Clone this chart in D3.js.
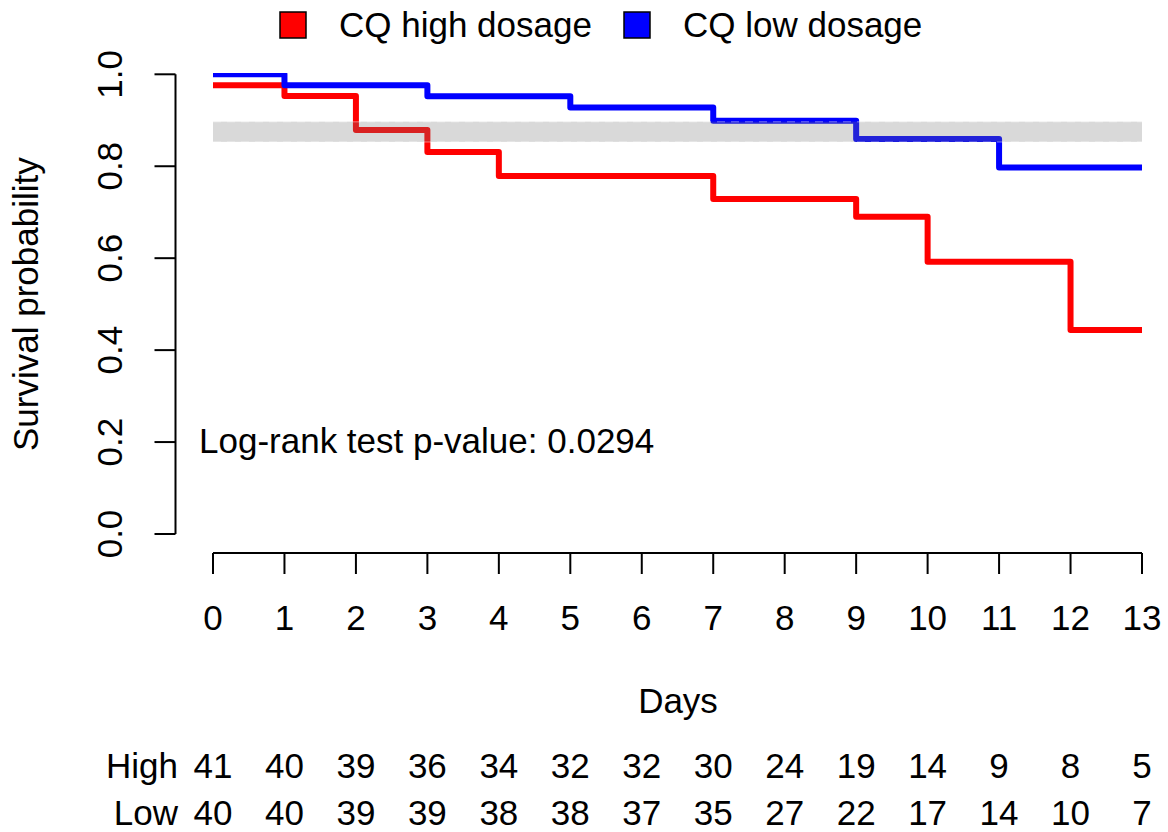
<!DOCTYPE html>
<html><head><meta charset="utf-8">
<script src="https://cdn.jsdelivr.net/npm/d3@7"></script>
<style>
html,body{margin:0;padding:0;background:#fff;}
text{font-family:"Liberation Sans",Arial,Helvetica,sans-serif;fill:#000;}
</style></head>
<body>
<svg id="chart" width="1168" height="832"></svg>
<script>
// ---- data ----
const seriesNames = ["CQ high dosage", "CQ low dosage"];
const seriesColors = ["#ff0000", "#0000ff"];
const highTimes = [0, 1, 2, 3, 4, 7, 9, 10, 12];
const highSurv  = [0.976, 0.953, 0.879, 0.831, 0.779, 0.729, 0.690, 0.592, 0.444];
const lowTimes  = [0, 1, 3, 5, 7, 9, 11];
const lowSurv   = [1.000, 0.976, 0.952, 0.928, 0.899, 0.859, 0.797];
const endTime = 13;
const bandRange = [0.853, 0.897];
const xTicks = [0,1,2,3,4,5,6,7,8,9,10,11,12,13];
const yTicks = [0.0, 0.2, 0.4, 0.6, 0.8, 1.0];
const riskLabels = ["High", "Low"];
const riskHigh = [41, 40, 39, 36, 34, 32, 32, 30, 24, 19, 14, 9, 8, 5];
const riskLow  = [40, 40, 39, 39, 38, 38, 37, 35, 27, 22, 17, 14, 10, 7];
const pText = "Log-rank test p-value: 0.0294";

// ---- layout ----
const svg = d3.select("#chart");
const FS = 35;
const x = d3.scaleLinear().domain([0, 13]).range([213, 1142]);
const y = d3.scaleLinear().domain([0, 1]).range([534, 74.3]);

svg.append("defs").append("clipPath").attr("id", "plotclip")
  .append("rect").attr("x", 150).attr("y", 73).attr("width", 1010).attr("height", 470);

// y axis (R style)
const yAxisX = 175.5;
const gy = svg.append("g");
gy.append("line").attr("x1", yAxisX).attr("x2", yAxisX)
  .attr("y1", y(0)).attr("y2", y(1)).attr("stroke", "#000").attr("stroke-width", 2);
gy.selectAll("line.t").data(yTicks).enter().append("line").attr("class","t")
  .attr("x1", yAxisX - 21).attr("x2", yAxisX).attr("y1", d => y(d)).attr("y2", d => y(d))
  .attr("stroke", "#000").attr("stroke-width", 2);
gy.selectAll("text").data(yTicks).enter().append("text")
  .attr("transform", d => `translate(122,${y(d)}) rotate(-90)`)
  .attr("text-anchor", "middle").style("font-size", FS + "px")
  .text(d => d3.format(".1f")(d));
svg.append("text").attr("transform", `translate(38,${(y(0)+y(1))/2}) rotate(-90)`)
  .attr("text-anchor", "middle").style("font-size", FS + "px").text("Survival probability");

// x axis
const xAxisY = 553;
const gx = svg.append("g");
gx.append("line").attr("x1", x(0)).attr("x2", x(13)).attr("y1", xAxisY).attr("y2", xAxisY)
  .attr("stroke", "#000").attr("stroke-width", 2);
gx.selectAll("line.t").data(xTicks).enter().append("line").attr("class","t")
  .attr("x1", d => x(d)).attr("x2", d => x(d)).attr("y1", xAxisY).attr("y2", xAxisY + 21)
  .attr("stroke", "#000").attr("stroke-width", 2);
gx.selectAll("text").data(xTicks).enter().append("text")
  .attr("x", d => x(d)).attr("y", 630).attr("text-anchor", "middle")
  .style("font-size", FS + "px").text(d => d);
svg.append("text").attr("x", 678).attr("y", 713).attr("text-anchor", "middle")
  .style("font-size", FS + "px").text("Days");

// curves
const line = d3.line().x(d => x(d[0])).y(d => y(d[1])).curve(d3.curveStepAfter);
function pts(t, s) { const p = t.map((v, i) => [v, s[i]]); p.push([endTime, s[s.length - 1]]); return p; }
const curves = [pts(highTimes, highSurv), pts(lowTimes, lowSurv)];
const gc = svg.append("g").attr("clip-path", "url(#plotclip)");
curves.forEach((c, i) => {
  gc.append("path").attr("d", line(c)).attr("fill", "none")
    .attr("stroke", seriesColors[i]).attr("stroke-width", 6)
    .attr("stroke-linejoin", "round");
});

// grey band on top
svg.append("rect").attr("x", x(0)).attr("width", x(13) - x(0))
  .attr("y", y(bandRange[1])).attr("height", y(bandRange[0]) - y(bandRange[1]))
  .attr("fill", "rgb(120,120,120)").attr("fill-opacity", 0.28);
bandRange.forEach(v => {
  svg.append("line").attr("x1", x(0)).attr("x2", x(13)).attr("y1", y(v)).attr("y2", y(v))
    .attr("stroke", "#ffffff").attr("stroke-opacity", 0.3).attr("stroke-width", 1.5)
    .attr("stroke-dasharray", "8,6");
});

// p-value text
svg.append("text").attr("x", 199).attr("y", 453).style("font-size", FS + "px").text(pText);

// legend
const legX = [280, 624];
const legTextX = [339, 683];
seriesNames.forEach((n, i) => {
  svg.append("rect").attr("x", legX[i]).attr("y", 12).attr("width", 26).attr("height", 26)
    .attr("fill", seriesColors[i]).attr("stroke", "#000").attr("stroke-width", 1.5);
  svg.append("text").attr("x", legTextX[i]).attr("y", 37).style("font-size", FS + "px").text(n);
});

// risk table
const riskRows = [riskHigh, riskLow];
const riskY = [778, 825];
riskRows.forEach((row, r) => {
  svg.append("text").attr("x", 178).attr("y", riskY[r]).attr("text-anchor", "end")
    .style("font-size", FS + "px").text(riskLabels[r]);
  svg.selectAll(null).data(row).enter().append("text")
    .attr("x", (d, i) => x(xTicks[i])).attr("y", riskY[r]).attr("text-anchor", "middle")
    .style("font-size", FS + "px").text(d => d);
});
</script>
</body></html>
